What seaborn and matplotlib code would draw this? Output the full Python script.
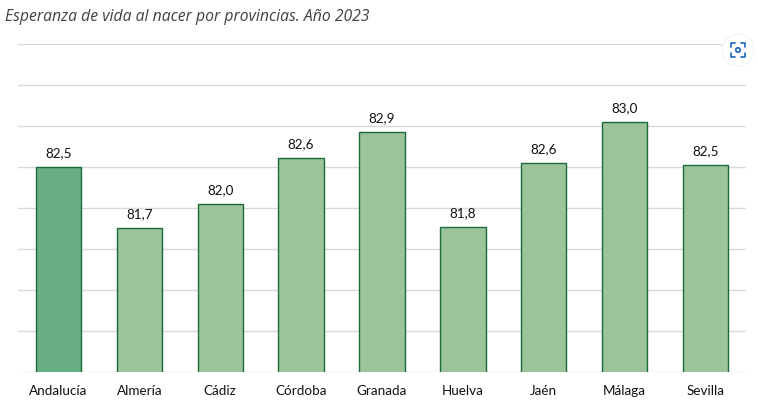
"""
    Esperanza de vida al nacer por provincias, bar chart.
"""

import seaborn as sns
import pandas as pd
import matplotlib.pyplot as plt
from matplotlib.patches import Circle

provincias = ["Andalucía", "Almería", "Cádiz", "Córdoba", "Granada", "Huelva", "Jaén", "Málaga", "Sevilla"]
esperanza = [82.49, 81.75, 82.04, 82.60, 82.92, 81.76, 82.54, 83.04, 82.52]
etiquetas = ["82,5", "81,7", "82,0", "82,6", "82,9", "81,8", "82,6", "83,0", "82,5"]
colores = ["#69AD82", "#9BC49A", "#9BC49A", "#9BC49A", "#9BC49A", "#9BC49A", "#9BC49A", "#9BC49A", "#9BC49A"]

W, H = 758, 410

sns.set_style("white")
plt.rcParams['font.family'] = ['Lato', 'DejaVu Sans']

data = pd.DataFrame({"provincia": provincias, "esperanza": esperanza})

fig = plt.figure(figsize=(W / 100, H / 100), dpi=100)
ax = fig.add_axes([18 / W, 1 - 372.5 / H, 728 / W, 328 / H])

sns.barplot(data=data, x="provincia", y="esperanza", hue="provincia", palette=colores, legend=False,
            width=0.56, edgecolor="#1A6B3C", linewidth=1.0, saturation=1, ax=ax, zorder=3)

ax.set_ylim(80, 84)
ax.set_xlim(-0.5, 8.5)
ax.set_yticks([80 + 0.5 * i for i in range(9)])
ax.set_yticklabels([])
ax.grid(axis="y", color="#D9D9D9", linewidth=1, zorder=0)
ax.set_axisbelow(True)
ax.set_xlabel("")
ax.set_ylabel("")
ax.tick_params(axis="both", length=0)
ax.tick_params(axis="x", labelsize=9.7, labelcolor="#111111", pad=16)
for etiqueta in ax.get_xticklabels():
    etiqueta.set_verticalalignment("baseline")
sns.despine(ax=ax, left=True, bottom=True)

for i, (valor, texto) in enumerate(zip(esperanza, etiquetas)):
    ax.annotate(texto, (i, valor), xytext=(0, 8), textcoords="offset points", ha="center", va="baseline",
                fontsize=9.7, color="#111111")

fig.text(5 / W, 1 - 17 / H, "Esperanza de vida al nacer por provincias. Año 2023", style="italic",
         family=["Open Sans", "DejaVu Sans"], fontsize=11.3, color="#404040", va="center")

# boton de captura arriba a la derecha
overlay = fig.add_axes([0, 0, 1, 1], facecolor="none")
overlay.set_xlim(0, W)
overlay.set_ylim(H, 0)
overlay.axis("off")
overlay.add_patch(Circle((738, 51), 16, facecolor="white", edgecolor="#F4F4F4", linewidth=1))
azul = "#1565C0"
for sx in (-1, 1):
    for sy in (-1, 1):
        overlay.plot([738 + sx * 7, 738 + sx * 7, 738 + sx * 3], [51 + sy * 3, 51 + sy * 7, 51 + sy * 7],
                     color=azul, linewidth=1.2, solid_capstyle="round")
overlay.add_patch(Circle((738, 51), 2.2, facecolor="white", edgecolor=azul, linewidth=1.2))

plt.savefig("out.png", dpi=100)
plt.close()
